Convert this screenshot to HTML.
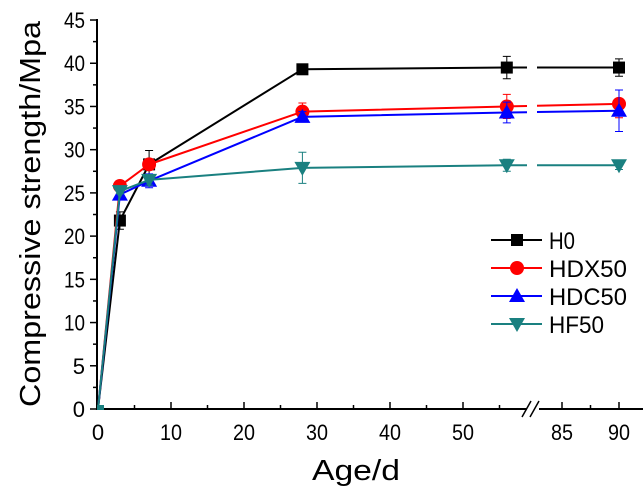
<!DOCTYPE html>
<html><head><meta charset="utf-8"><style>
body{margin:0;background:#fff}
svg{display:block;font-family:"Liberation Sans",Arial,sans-serif}
</style></head><body>
<svg id="chart" width="643" height="494" viewBox="0 0 643 494" xmlns="http://www.w3.org/2000/svg">
<g id="axes"></g><g id="series"></g><g id="legend"></g>
<text transform="translate(40,214) rotate(-90)" text-anchor="middle" font-size="29" textLength="386" lengthAdjust="spacingAndGlyphs">Compressive strength/Mpa</text>
<text x="356" y="480" text-anchor="middle" font-size="29" textLength="88" lengthAdjust="spacingAndGlyphs">Age/d</text>
</svg>
<script>
const ages=[0,3,7,28,56,90];
const seriesNames=["H0","HDX50","HDC50","HF50"];
const h0=[0,21.8,28.3,39.3,39.5,39.5];
const hdx50=[0,25.8,28.3,34.4,35.0,35.3];
const hdc50=[0,24.8,26.4,33.8,34.3,34.5];
const hf50=[0,25.2,26.5,27.9,28.2,28.2];
const h0Err=[0,1.0,1.6,0.3,1.3,1.0];
const hdx50Err=[0,0.4,0.5,1.0,1.4,1.6];
const hdc50Err=[0,0.4,0.8,0.6,1.2,2.4];
const hf50Err=[0,0.3,0.6,1.8,0.7,0.5];
const yTicks=[0,5,10,15,20,25,30,35,40,45];
const xTicks1=[0,10,20,30,40,50];
const xTicks2=[85,90];

const NS="http://www.w3.org/2000/svg";
function X(d){return d<=60?98+d*7.3:562+(d-85)*11.4;}
function Y(v){return 409-v*8.644;}
function mk(tag,attrs,parent){const e=document.createElementNS(NS,tag);for(const k in attrs)e.setAttribute(k,attrs[k]);parent.appendChild(e);return e;}
const axes=document.getElementById('axes');
let e;
e=mk('line',{x1:97,y1:Y(45)-1,x2:97,y2:410,stroke:'#000','stroke-width':2},axes);

e=mk('path',{d:'M97 409 H527 M539 409 H643',stroke:'#000','stroke-width':2,fill:'none'},axes);

e=mk('path',{d:'M522 417 L531 401 M530 417 L539 401',stroke:'#000','stroke-width':1.5,fill:'none'},axes);

yTicks.forEach(v=>{
  mk('line',{x1:90,x2:97,y1:Y(v),y2:Y(v),stroke:'#000','stroke-width':1.5},axes);
  if(v<45)mk('line',{x1:93,x2:97,y1:Y(v+2.5),y2:Y(v+2.5),stroke:'#000','stroke-width':1.5},axes);
  e=mk('text',{x:85,y:Y(v)+8,'text-anchor':'end','font-size':22},axes);e.textContent=v;
  if(String(v).length>1){e.setAttribute('textLength',21);e.setAttribute('lengthAdjust','spacingAndGlyphs');}
  
});
xTicks1.concat(xTicks2).forEach(v=>{
  mk('line',{x1:X(v),x2:X(v),y1:409,y2:402,stroke:'#000','stroke-width':1.5},axes);
  e=mk('text',{x:X(v),y:440,'text-anchor':'middle','font-size':22},axes);e.textContent=v;
  if(String(v).length>1){e.setAttribute('textLength',22);e.setAttribute('lengthAdjust','spacingAndGlyphs');}
  
});
xTicks1.forEach(v=>{if(v+5<60)mk('line',{x1:X(v+5),x2:X(v+5),y1:409,y2:405,stroke:'#000','stroke-width':1.5},axes);});
mk('line',{x1:X(87.5),x2:X(87.5),y1:409,y2:405,stroke:'#000','stroke-width':1.5},axes);

const data=[h0,hdx50,hdc50,hf50];
const errs=[h0Err,hdx50Err,hdc50Err,hf50Err];
const colors=['#000000','#ff0000','#0000ff','#1a8080'];
const shapes=['square','circle','up','down'];
function marker(shape,x,y,c,p){
  if(shape==='square')return mk('rect',{x:x-6,y:y-6,width:12,height:12,fill:c},p);
  if(shape==='circle')return mk('circle',{cx:x,cy:y,r:7,fill:c},p);
  if(shape==='up')return mk('polygon',{points:`${x},${y-8} ${x-8},${y+6} ${x+8},${y+6}`,fill:c},p);
  return mk('polygon',{points:`${x},${y+8} ${x-8},${y-6} ${x+8},${y-6}`,fill:c},p);
}
const sg=document.getElementById('series');
data.forEach((vals,i)=>{
  const g=mk('g',{},sg);
  
  
  let d='';
  for(let j=0;j<ages.length-1;j++){
    const x1=X(ages[j]),y1=Y(vals[j]),x2=X(ages[j+1]),y2=Y(vals[j+1]);
    if(ages[j+1]>60){
      const t1=(527-x1)/(x2-x1),t2=(537-x1)/(x2-x1);
      d+=`M${x1} ${y1} L527 ${y1+(y2-y1)*t1} M537 ${y1+(y2-y1)*t2} L${x2} ${y2} `;
    } else d+=`M${x1} ${y1} L${x2} ${y2} `;
  }
  mk('path',{d:d,stroke:colors[i],'stroke-width':2,fill:'none'},g);
  vals.forEach((v,j)=>{
    const x=X(ages[j]),er=errs[i][j];
    if(er>0){
      mk('path',{d:`M${x} ${Y(v+er)} V${Y(v-er)} M${x-4} ${Y(v+er)} H${x+4} M${x-4} ${Y(v-er)} H${x+4}`,stroke:colors[i],'stroke-width':1,fill:'none'},g);
    }
    if(ages[j]===0)return;
    const m=marker(shapes[i],x,Y(v),colors[i],g);
    
    
  });
});
e=mk('rect',{x:97,y:405,width:7,height:5,fill:'#1a8080'},sg);

const lg=document.getElementById('legend');
seriesNames.forEach((n,i)=>{
  const y=240+i*28;
  const g=mk('g',{},lg);
  
  
  mk('line',{x1:491,x2:542,y1:y,y2:y,stroke:colors[i],'stroke-width':2},g);
  marker(shapes[i],517,y,colors[i],g);
  const t=mk('text',{x:549,y:y+9,'font-size':24},g);t.textContent=n;
  t.setAttribute('textLength',[26,78,78,55][i]);t.setAttribute('lengthAdjust','spacingAndGlyphs');
});
</script>
</body></html>
